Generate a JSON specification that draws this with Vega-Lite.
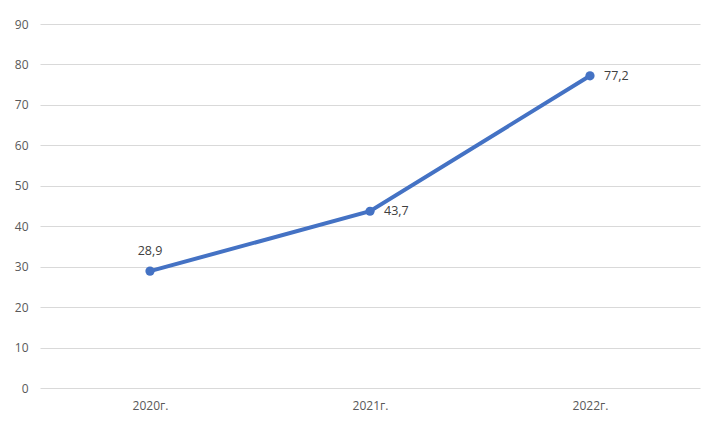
{
  "$schema": "https://vega.github.io/schema/vega-lite/v6.json",
  "width": 660,
  "height": 364,
  "autosize": {"type": "none"},
  "padding": {"left": 40, "top": 24, "right": 14, "bottom": 39},
  "background": "white",
  "config": {
    "view": {"stroke": null},
    "font": "Open Sans",
    "axis": {"labelFont": "Open Sans", "labelColor": "#595959", "labelFontSize": 12}
  },
  "data": {
    "values": [
      {"year": "2020г.", "value": 28.9, "label": "28,9"},
      {"year": "2021г.", "value": 43.7, "label": "43,7"},
      {"year": "2022г.", "value": 77.2, "label": "77,2"}
    ]
  },
  "encoding": {
    "x": {
      "field": "year", "type": "ordinal", "sort": null,
      "scale": {"type": "point", "padding": 0.5},
      "axis": {"title": null, "labelAngle": 0, "domain": false, "ticks": false, "labelPadding": 12, "grid": false}
    },
    "y": {
      "field": "value", "type": "quantitative",
      "scale": {"domain": [0, 90], "nice": false},
      "axis": {"title": null, "values": [0,10,20,30,40,50,60,70,80,90], "domain": false, "ticks": false, "labelPadding": 12, "gridColor": "#d9d9d9", "gridWidth": 1}
    }
  },
  "layer": [
    {"mark": {"type": "line", "color": "#4472C4", "strokeWidth": 4}},
    {"mark": {"type": "point", "filled": true, "color": "#4472C4", "size": 85, "opacity": 1}},
    {
      "transform": [{"filter": "datum.year == '2020г.'"}],
      "mark": {"type": "text", "dy": -20, "fontSize": 12.5, "color": "#404040", "font": "Open Sans"},
      "encoding": {"text": {"field": "label"}}
    },
    {
      "transform": [{"filter": "datum.year != '2020г.'"}],
      "mark": {"type": "text", "align": "left", "dx": 14, "fontSize": 12.5, "color": "#404040", "font": "Open Sans"},
      "encoding": {"text": {"field": "label"}}
    }
  ]
}
